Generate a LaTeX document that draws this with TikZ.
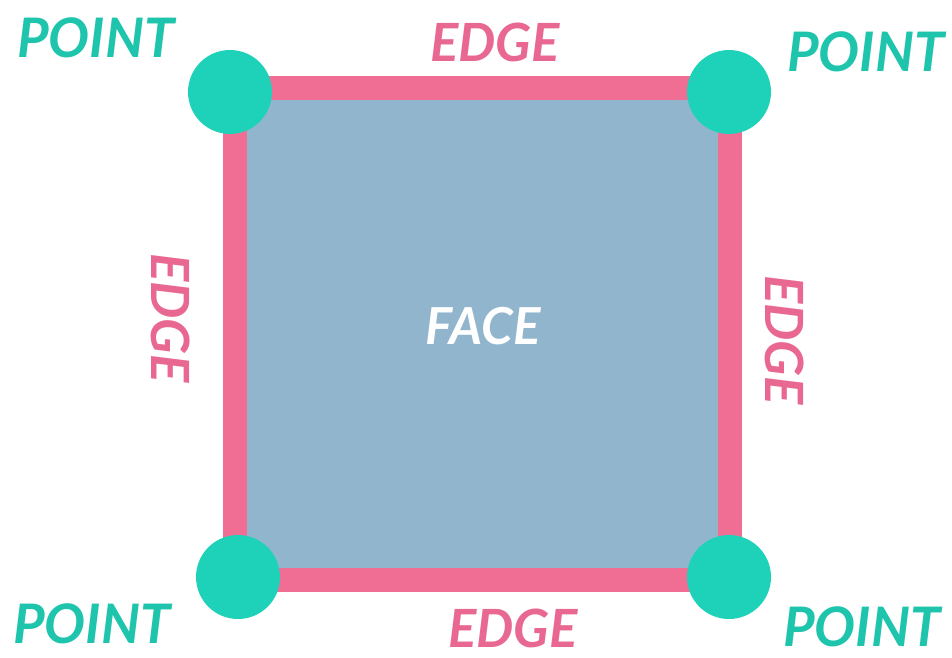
\documentclass[tikz,border=0pt]{standalone}
\usepackage{fontspec}
\setmainfont{Lato}
\usepackage{tikz}
\usetikzlibrary{positioning}

\definecolor{pointcol}{RGB}{29,210,185}
\definecolor{pointtxt}{RGB}{30,196,172}
\definecolor{edgecol}{RGB}{240,110,147}
\definecolor{edgetxt}{RGB}{232,104,145}
\definecolor{facecol}{RGB}{146,181,206}

\tikzset{
    corner/.style={circle, fill=pointcol, minimum size=1.68cm, inner sep=0pt},
    pointlabel/.style={text=pointtxt, font=\fontsize{31}{31}\selectfont\bfseries\itshape, inner sep=0pt},
    edgelabel/.style={text=edgetxt, font=\fontsize{30}{30}\selectfont\bfseries\itshape, inner sep=0pt},
    facelabel/.style={text=white, font=\fontsize{29}{29}\selectfont\bfseries\itshape, inner sep=0pt},
}

\begin{document}
\begin{tikzpicture}[x=0.02cm, y=-0.02cm]
    \useasboundingbox (0,0) rectangle (952,658);

    % corners of the square
    \coordinate (tl) at (235,88);
    \coordinate (tr) at (730,88);
    \coordinate (br) at (730,580);
    \coordinate (bl) at (235,580);

    % face and edges
    \filldraw[fill=facecol, draw=edgecol, line width=13.6pt]
        (tl) -- (tr) -- (br) -- (bl) -- cycle;

    % points
    \node[corner] (ptl) at (230,92) {};
    \node[corner] (ptr) at (729,92) {};
    \node[corner] (pbl) at (238,577) {};
    \node[corner] (pbr) at (729,577) {};

    % labels
    \node[pointlabel] (ltl) at (96,38) {POINT};
    \node[pointlabel] (ltr) at (866,52) {POINT};
    \node[pointlabel] (lbl) at (92,624) {POINT};
    \node[pointlabel] (lbr) at (862,627) {POINT};

    \node[edgelabel] (etop) at (495,42) {EDGE};
    \node[edgelabel] (ebot) at (513,628) {EDGE};
    \node[edgelabel, rotate=-90] (eleft) at (171,318) {EDGE};
    \node[edgelabel, rotate=-90] (eright) at (785,340) {EDGE};

    \node[facelabel] (face) at (483,326) {FACE};
\end{tikzpicture}
\end{document}
